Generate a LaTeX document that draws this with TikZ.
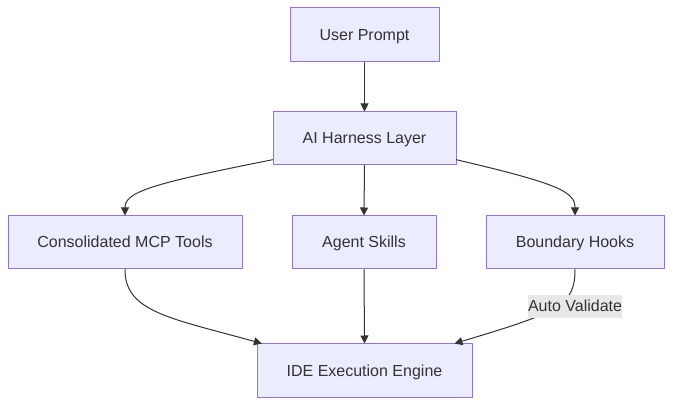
\documentclass[tikz,border=0pt]{standalone}
\usepackage{fontspec}
\setmainfont{Liberation Sans}
\usepackage{xcolor}
\usepackage{tikz}
\usetikzlibrary{arrows.meta}
\definecolor{boxfill}{HTML}{ECECFF}
\definecolor{boxline}{HTML}{9370DB}
\definecolor{inkgrey}{HTML}{333333}
\definecolor{tagfill}{HTML}{E8E8E8}

\begin{document}
\begin{tikzpicture}[x=1pt,y=-1pt,line cap=round,line join=round,
  box/.style={draw=boxline,fill=boxfill,line width=1pt,text=inkgrey,
    font=\fontsize{16}{19}\selectfont,minimum height=53pt,inner sep=0pt,
    text height=14pt,text depth=3.5pt},
  link/.style={draw=inkgrey,line width=1pt,-{Triangle[length=8pt,width=8pt]}},
  tag/.style={fill=tagfill,text=inkgrey,font=\fontsize{16}{19}\selectfont,
    minimum width=94pt,minimum height=23pt,inner sep=0pt,
    text height=14pt,text depth=3.5pt}]
\useasboundingbox(0,0) rectangle (673,406);
% Top of the flow.
\node[box,minimum width=149pt,minimum height=54pt](prompt) at (364.5,35){User Prompt};
\node[box,minimum width=183pt](harness) at (364.5,138.5){AI Harness Layer};
% Middle row.
\node[box,minimum width=234pt](mcp) at (125,242.5){Consolidated MCP Tools};
\node[box,minimum width=144pt](skills) at (364,242.5){Agent Skills};
\node[box,minimum width=178pt](hooks) at (575,242.5){Boundary Hooks};
% Bottom.
\node[box,minimum width=215pt,minimum height=54pt](ide) at (364.5,371){IDE Execution Engine};

\draw[link](prompt.south)--(harness.north);
\draw[link](harness.193) .. controls (150,184) and (125,192) .. (mcp.north);
\draw[link](harness.south)--(skills.north);
\draw[link](harness.347) .. controls (560,184) and (575,192) .. (hooks.north);
\draw[link](mcp.south) .. controls (125,312) and (170,318) .. (ide.165);
\draw[link](skills.south)--(ide.north);
\draw[link](hooks.south) .. controls (575,305) and (560,312) .. (ide.17);
\node[tag](auto) at (575,306.5){Auto Validate};
\end{tikzpicture}
\end{document}
